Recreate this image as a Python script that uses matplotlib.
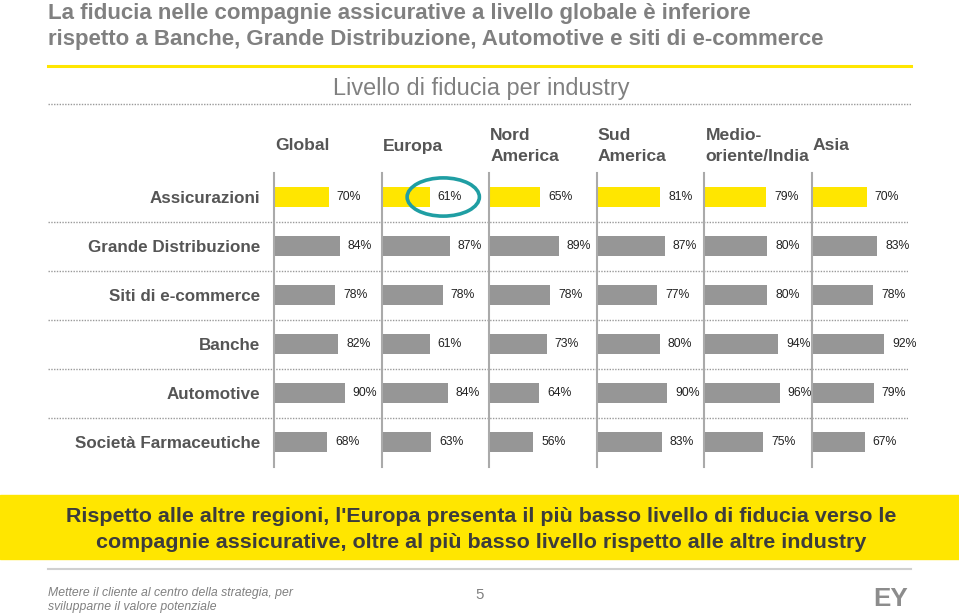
import numpy as np
import matplotlib as mpl
import matplotlib.pyplot as plt
from matplotlib.lines import Line2D
from matplotlib.patches import Ellipse, Rectangle

# data
regions = ['Global', 'Europa', 'Nord\nAmerica', 'Sud\nAmerica',
           'Medio-\noriente/India', 'Asia']
industries = ['Assicurazioni', 'Grande Distribuzione', 'Siti di e-commerce',
              'Banche', 'Automotive', 'Società Farmaceutiche']
global_vals = [70, 84, 78, 82, 90, 68]
europa_vals = [61, 87, 78, 61, 84, 63]
nord_america_vals = [65, 89, 78, 73, 64, 56]
sud_america_vals = [81, 87, 77, 80, 90, 83]
medio_oriente_vals = [79, 80, 80, 94, 96, 75]
asia_vals = [70, 83, 78, 92, 79, 67]

values = [global_vals, europa_vals, nord_america_vals, sud_america_vals,
          medio_oriente_vals, asia_vals]

W, H = 959, 614
YELLOW = '#ffe600'
BAR_GREY = '#969696'
SANS = ['Liberation Sans', 'DejaVu Sans']


def px(x, y):
    """pixel position (from top-left) -> figure fraction"""
    return x / W, 1 - y / H


def pt(p):
    return p * 72 / 100


fig = plt.figure(figsize=(W / 100, H / 100), dpi=100)

# Title
fig.text(*px(48, 14), 'La fiducia nelle compagnie assicurative a livello globale è inferiore',
         family=SANS, weight='bold', size=pt(22.3), color='#808080', va='center')
fig.text(*px(48, 39), 'rispetto a Banche, Grande Distribuzione, Automotive e siti di e-commerce',
         family=SANS, weight='bold', size=pt(22.3), color='#808080', va='center')
fig.add_artist(Line2D([48 / W, 911 / W], [1 - 66 / H] * 2, color=YELLOW, lw=2.2))

fig.text(*px(481, 89), 'Livello di fiducia per industry', family=SANS,
         size=pt(23.5), color='#808080', ha='center', va='center')
fig.add_artist(Line2D([48 / W, 911 / W], [1 - 104 / H] * 2, color='#9a9a9a',
                      lw=1, ls=(0, (1, 1))))

# panel geometry
x0, pw = 274, 107.6
top, row_h = 172.5, 49
n = len(industries)
xmax = 137

# background axes for the dotted row separators
bg = fig.add_axes([48 / W, 1 - (top + n * row_h) / H, (908 - 48) / W, n * row_h / H])
bg.set_ylim(n - 0.5, -0.5)
bg.set_xlim(0, 1)
bg.axis('off')
bg.hlines(np.arange(n - 1) + 0.5, 0, 1, color='#9a9a9a', lw=1, ls=(0, (1, 1)))

gap = 10
for i, (reg, vals) in enumerate(zip(regions, values)):
    left = x0 + pw * i
    ax = fig.add_axes([left / W, 1 - (top + n * row_h) / H, pw / W, n * row_h / H])
    ax.patch.set_alpha(0)
    y = np.arange(n)
    colors = [YELLOW] + [BAR_GREY] * (n - 1)
    ax.barh(y, vals, height=0.4, color=colors)
    for yy, v in zip(y, vals):
        ax.text(v + gap, yy, f'{v}%', va='center', ha='left', family=SANS,
                size=pt(12.3), color='#222222')
    ax.set_xlim(0, xmax)
    ax.set_ylim(n - 0.5, -0.5)
    for s in ['top', 'right', 'bottom']:
        ax.spines[s].set_visible(False)
    ax.spines['left'].set_color('#aaaaaa')
    ax.spines['left'].set_linewidth(1.5)
    ax.set_xticks([])
    ax.tick_params(axis='y', length=0, pad=pt(14))
    if i == 0:
        ax.set_yticks(y)
        ax.set_yticklabels(industries, family=SANS, weight='bold',
                           size=pt(17), color='#555555')
    else:
        ax.set_yticks([])
    # region header
    fig.text(*px(left + 1, 146), reg, family=SANS, weight='bold', size=pt(17.5),
             color='#555555', va='center', ha='left', linespacing=1.45)
    if i == 1:
        # teal hand-drawn circle around the lowest insurance value
        ax.add_patch(Ellipse((vals[0] + gap + 7.5, 0), 92, 0.78,
                             fill=False, ec='#1f9ea3', lw=2.6, clip_on=False))

# yellow message box
fig.add_artist(Rectangle(px(0, 559), 1, 64 / H, color=YELLOW, zorder=0))
fig.text(*px(481, 517), "Rispetto alle altre regioni, l'Europa presenta il più basso livello di fiducia verso le",
         family=SANS, weight='bold', size=pt(21.5), color='#3c3c3c', ha='center', va='center')
fig.text(*px(481, 543), 'compagnie assicurative, oltre al più basso livello rispetto alle altre industry',
         family=SANS, weight='bold', size=pt(21.5), color='#3c3c3c', ha='center', va='center')

# footer
fig.add_artist(Line2D([48 / W, 911 / W], [1 - 569 / H] * 2, color='#d0d0d0', lw=1.5))
fig.text(*px(48, 593), 'Mettere il cliente al centro della strategia, per', family=SANS,
         style='italic', size=pt(12.3), color='#808080', va='center')
fig.text(*px(48, 607), 'svilupparne il valore potenziale', family=SANS,
         style='italic', size=pt(12.3), color='#808080', va='center')
fig.text(*px(480, 595), '5', family=SANS, size=pt(15), color='#808080',
         ha='center', va='center')
fig.text(*px(908, 599), 'EY', family=SANS, weight='bold', size=pt(26),
         color='#8c8c8c', ha='right', va='center')

fig.savefig('out.png', dpi=100)
